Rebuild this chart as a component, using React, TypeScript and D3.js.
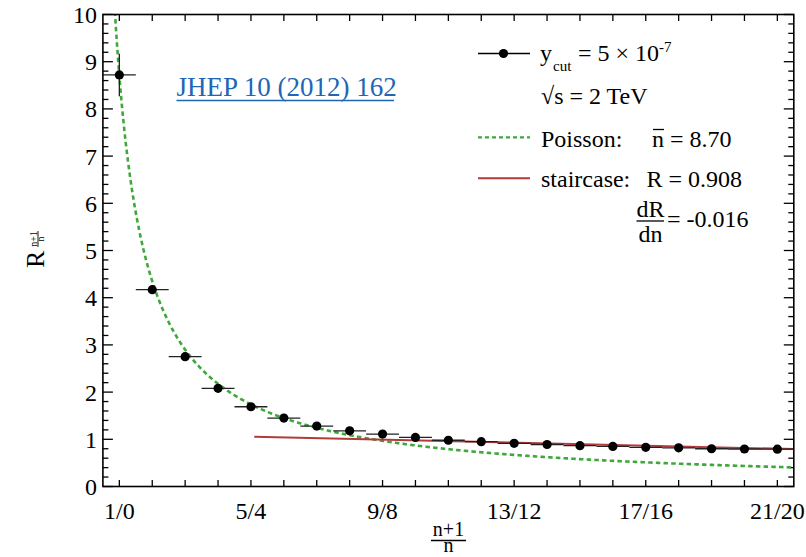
import React from 'react';
import * as d3 from 'd3';

// ---- data ----
const nValues = [0, 1, 2, 3, 4, 5, 6, 7, 8, 9, 10, 11, 12, 13, 14, 15, 16, 17, 18, 19, 20];
const ratioValues = [8.72, 4.17, 2.75, 2.08, 1.69, 1.45, 1.28, 1.18, 1.11, 1.04, 0.98, 0.95, 0.915, 0.89, 0.865, 0.85, 0.83, 0.82, 0.80, 0.795, 0.79];
const ratioErrors = [0.45, 0.06, 0.04, 0.03, 0.03, 0.02, 0.02, 0.02, 0.02, 0.02, 0.02, 0.02, 0.02, 0.02, 0.02, 0.02, 0.02, 0.02, 0.02, 0.02, 0.02];
const xTickPositions = [0, 4, 8, 12, 16, 20];
const xTickLabels = ['1/0', '5/4', '9/8', '13/12', '17/16', '21/20'];
const yTickValues = [0, 1, 2, 3, 4, 5, 6, 7, 8, 9, 10];
const POISSON_NBAR = 8.70;
const STAIR_RANGE = [4.1, 20.5];
const STAIR_R_AT_START = 1.055;
const STAIR_SLOPE = -0.016;

const W = 806;
const H = 557;
const FRAME = { left: 102.9, right: 793.8, top: 14.5, bottom: 486.5 };
const FONT = '"Liberation Serif", "Times New Roman", Times, serif';
const GREEN = '#3fa83a';
const RED = '#b23b3b';

export default function App() {
  const x = d3.scaleLinear().domain([-0.5, 20.5]).range([FRAME.left, FRAME.right]);
  const y = d3.scaleLinear().domain([0, 10]).range([FRAME.bottom, FRAME.top]);

  const poissonN = d3.range(-0.5, 20.5001, 0.02);
  const poissonLine = d3.line<number>().x(n => x(n)).y(n => y(POISSON_NBAR / (n + 1)))(poissonN) || '';
  const stairLine = d3.line<number>().x(n => x(n)).y(n => y(STAIR_R_AT_START + STAIR_SLOPE * (n - STAIR_RANGE[0])))(STAIR_RANGE) || '';

  const minorY = d3.range(0, 10.0001, 0.2);
  const txt = { fontFamily: FONT };

  return (
    <svg width={W} height={H} style={{ position: 'absolute', left: 0, top: 0, background: '#fff', fontFamily: FONT }}>
      <defs>
        <clipPath id="plotclip">
          <rect x={FRAME.left} y={FRAME.top} width={FRAME.right - FRAME.left} height={FRAME.bottom - FRAME.top} />
        </clipPath>
      </defs>

      {/* ticks */}
      <g stroke="#000" strokeWidth={1.3}>
        {minorY.map((v, i) => {
          const major = Math.abs(v - Math.round(v)) < 1e-6;
          const len = major ? 10 : 5.5;
          return (
            <g key={'yt' + i}>
              <line x1={FRAME.left} x2={FRAME.left + len} y1={y(v)} y2={y(v)} />
              <line x1={FRAME.right} x2={FRAME.right - len} y1={y(v)} y2={y(v)} />
            </g>
          );
        })}
        {nValues.map(n => (
          <g key={'xt' + n}>
            <line x1={x(n)} x2={x(n)} y1={FRAME.bottom} y2={FRAME.bottom - 6.5} />
            <line x1={x(n)} x2={x(n)} y1={FRAME.top} y2={FRAME.top + 6.5} />
          </g>
        ))}
      </g>

      {/* tick labels */}
      <g fontSize={24} fill="#000" style={txt}>
        {yTickValues.map(v => (
          <text key={'yl' + v} x={FRAME.left - 6} y={y(v)} dy="0.35em" textAnchor="end" style={txt}>{v}</text>
        ))}
        {xTickPositions.map((n, i) => (
          <text key={'xl' + n} x={x(n)} y={519} textAnchor="middle" style={txt}>{xTickLabels[i]}</text>
        ))}
      </g>

      {/* curves */}
      <g clipPath="url(#plotclip)">
        <path d={poissonLine} fill="none" stroke={GREEN} strokeWidth={2.6} strokeDasharray="4.5,3.2" />
        <path d={stairLine} fill="none" stroke={RED} strokeWidth={2} />
        {nValues.map((n, i) => (
          <g key={'pt' + n}>
            <line x1={x(n - 0.5)} x2={x(n + 0.5)} y1={y(ratioValues[i])} y2={y(ratioValues[i])} stroke="#222" strokeWidth={1.3} />
            <line x1={x(n)} x2={x(n)} y1={y(ratioValues[i] - ratioErrors[i])} y2={y(ratioValues[i] + ratioErrors[i])} stroke="#222" strokeWidth={1.3} />
            <circle cx={x(n)} cy={y(ratioValues[i])} r={4.6} fill="#000" />
          </g>
        ))}
      </g>

      {/* frame */}
      <rect x={FRAME.left} y={FRAME.top} width={FRAME.right - FRAME.left} height={FRAME.bottom - FRAME.top} fill="none" stroke="#000" strokeWidth={1.6} />

      {/* reference link */}
      <text x={176.5} y={96} fontSize={27} fill="#2166b4" style={txt}>JHEP 10 (2012) 162</text>
      <line x1={176.5} x2={394} y1={100.5} y2={100.5} stroke="#2166b4" strokeWidth={1.3} />

      {/* legend */}
      <g fontSize={24} fill="#000" style={txt}>
        <line x1={478} x2={530} y1={53.5} y2={53.5} stroke="#000" strokeWidth={1.4} />
        <circle cx={503.5} cy={53.5} r={4.6} fill="#000" />
        <text x={540} y={60.5} style={txt}>y</text>
        <text x={553} y={71} fontSize={15} style={txt}>cut</text>
        <text x={578} y={60.5} style={txt}>= 5 × 10</text>
        <text x={659} y={52} fontSize={15} style={txt}>-7</text>

        <text x={541} y={103.5} style={txt}>√s = 2 TeV</text>

        <line x1={478} x2={530} y1={137.3} y2={137.3} stroke={GREEN} strokeWidth={2.2} strokeDasharray="4,3" />
        <text x={541} y={146.7} style={txt}>Poisson:</text>
        <text x={652} y={146.7} style={txt}>n = 8.70</text>
        <line x1={653} x2={664} y1={129.5} y2={129.5} stroke="#000" strokeWidth={1.3} />

        <line x1={478} x2={530} y1={178.3} y2={178.3} stroke={RED} strokeWidth={2} />
        <text x={541} y={186.7} style={txt}>staircase:</text>
        <text x={646.5} y={186.7} style={txt}>R = 0.908</text>

        <text x={650.5} y={216.5} textAnchor="middle" style={txt}>dR</text>
        <line x1={636.5} x2={664} y1={221} y2={221} stroke="#000" strokeWidth={1.3} />
        <text x={650.5} y={242} textAnchor="middle" style={txt}>dn</text>
        <text x={667} y={226.5} style={txt}>= -0.016</text>
      </g>

      {/* y axis title */}
      <g transform="translate(44, 268) rotate(-90)" fill="#000" style={txt}>
        <text x={0} y={0} fontSize={26} style={txt}>R</text>
        <text x={29} y={-7.5} fontSize={10} textAnchor="middle" style={txt}>n+1</text>
        <line x1={21} x2={37} y1={-6} y2={-6} stroke="#000" strokeWidth={0.9} />
        <text x={29} y={0} fontSize={10} textAnchor="middle" style={txt}>n</text>
      </g>

      {/* x axis title */}
      <g fill="#000" fontSize={20} style={txt}>
        <text x={448.5} y={536} textAnchor="middle" style={txt}>n+1</text>
        <line x1={431} x2={466} y1={540.5} y2={540.5} stroke="#000" strokeWidth={1.3} />
        <text x={448.5} y={552} textAnchor="middle" style={txt}>n</text>
      </g>
    </svg>
  );
}
